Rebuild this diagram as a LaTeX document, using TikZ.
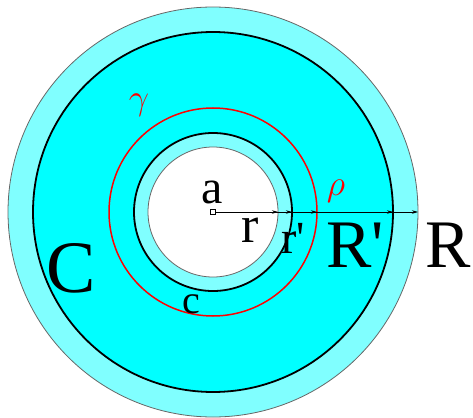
\documentclass[tikz,border=0pt]{standalone}
\usepackage{fix-cm}
\usepackage{fontspec}
\setmainfont{Liberation Serif}
\usetikzlibrary{arrows.meta}
\begin{document}
\begin{tikzpicture}[x=1pt,y=1pt,
  ring/.style={circle, inner sep=0pt, outer sep=0pt},
  arr/.style={line width=0.7pt, -{Stealth[length=6pt,width=3.5pt]}},
  lbl/.style={anchor=base, inner sep=0pt},
]
\definecolor{lcyan}{RGB}{128,255,255}
\definecolor{dcyan}{RGB}{0,255,255}
\useasboundingbox (0,0) rectangle (473,-417);
\coordinate (a) at (213,-212);
\node[ring, minimum size=410pt, fill=lcyan, draw=black!60, line width=0.8pt] (R) at (a) {};
\node[ring, minimum size=360pt, fill=dcyan, draw=black, line width=1.8pt] (Rp) at (a) {};
\node[ring, minimum size=208pt, draw=red, line width=1.5pt] (rho) at (a) {};
\node[ring, minimum size=158pt, fill=lcyan, draw=black, line width=1.8pt] (rp) at (a) {};
\node[ring, minimum size=130pt, fill=white, draw=black!60, line width=0.8pt] (r) at (a) {};
\draw[arr] (a) -- (R.east);
\draw[arr] (a) -- (Rp.east);
\draw[arr] (a) -- (rho.east);
\draw[arr] (a) -- (rp.east);
\draw[arr] (a) -- (r.east);
\node[draw, fill=white, minimum size=5pt, inner sep=0pt, line width=0.8pt] (sq) at (a) {};
\node[lbl, font=\fontsize{48}{52}\selectfont] (la) at (212,-203) {a};
\node[lbl, font=\fontsize{52}{56}\selectfont] (lr) at (250,-242) {r};
\node[lbl, font=\fontsize{46}{50}\selectfont] (lrp) at (293,-253) {r\textquotesingle};
\node[lbl, font=\fontsize{68}{72}\selectfont] (lRp) at (355,-267) {R\textquotesingle};
\node[lbl, font=\fontsize{68}{72}\selectfont] (lR) at (448,-267) {R};
\node[lbl, font=\fontsize{74}{78}\selectfont] (lC) at (71,-292) {C};
\node[lbl, font=\fontsize{40}{44}\selectfont] (lc) at (191,-313) {c};
\node[inner sep=0pt, text=red, font=\fontsize{36}{40}\selectfont] (lg) at (139,-105) {$\gamma$};
\node[inner sep=0pt, text=red, font=\fontsize{36}{40}\selectfont] (lrho) at (336,-191) {$\rho$};
\end{tikzpicture}
\end{document}
